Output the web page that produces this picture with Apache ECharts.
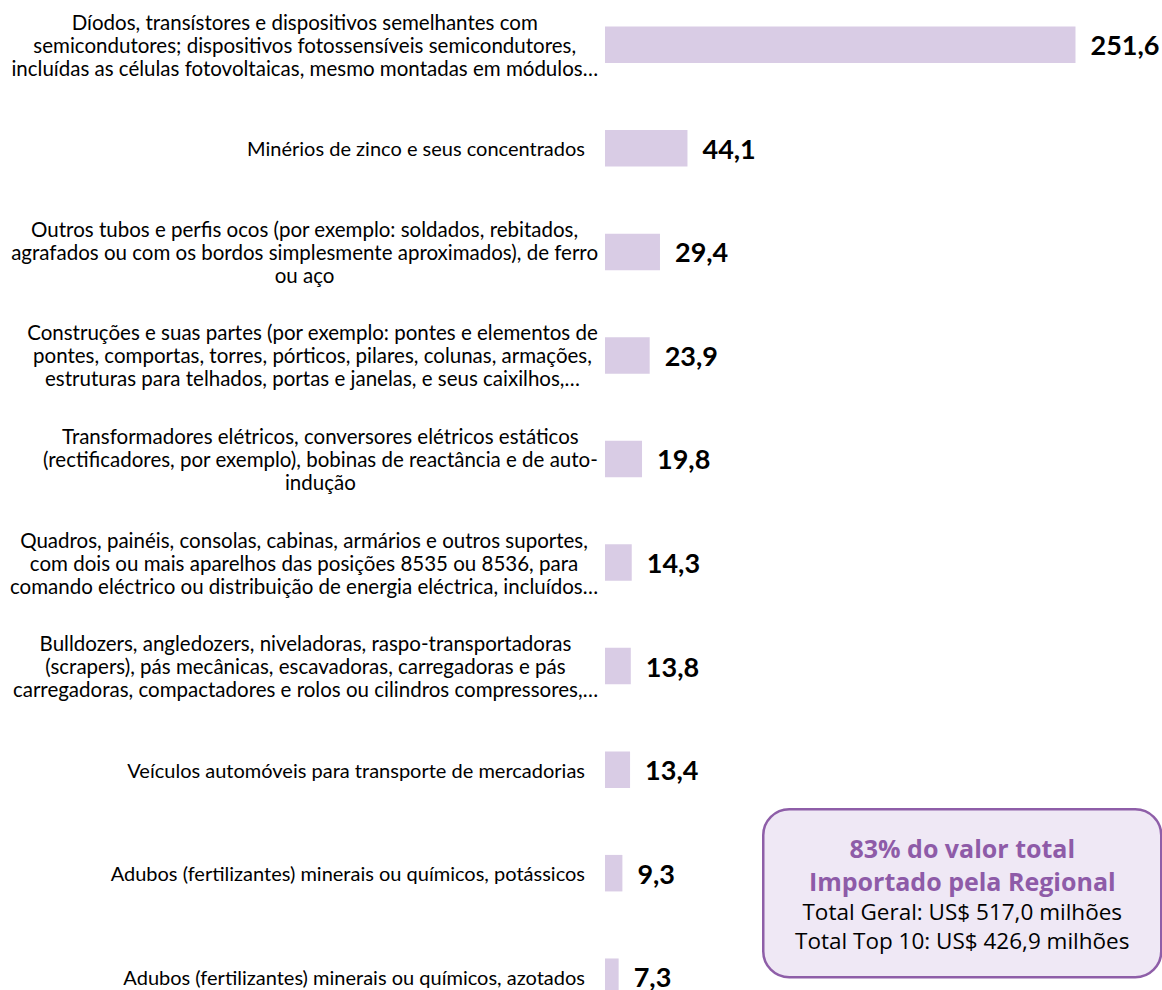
<!DOCTYPE html>
<html>
<head>
<meta charset="utf-8">
<script src="https://cdn.jsdelivr.net/npm/echarts@6/dist/echarts.min.js"></script>
<style>
html,body{margin:0;padding:0;background:#fff;}
#chart{width:1162px;height:990px;}
</style>
</head>
<body>
<div id="chart"></div>
<script>
const categories = [
  "Díodos, transístores e dispositivos semelhantes com\nsemicondutores; dispositivos fotossensíveis semicondutores,\nincluídas as células fotovoltaicas, mesmo montadas em módulos…",
  "Minérios de zinco e seus concentrados",
  "Outros tubos e perfis ocos (por exemplo: soldados, rebitados,\nagrafados ou com os bordos simplesmente aproximados), de ferro\nou aço",
  "Construções e suas partes (por exemplo: pontes e elementos de\npontes, comportas, torres, pórticos, pilares, colunas, armações,\nestruturas para telhados, portas e janelas, e seus caixilhos,…",
  "Transformadores elétricos, conversores elétricos estáticos\n(rectificadores, por exemplo), bobinas de reactância e de auto-\nindução",
  "Quadros, painéis, consolas, cabinas, armários e outros suportes,\ncom dois ou mais aparelhos das posições 8535 ou 8536, para\ncomando eléctrico ou distribuição de energia eléctrica, incluídos…",
  "Bulldozers, angledozers, niveladoras, raspo-transportadoras\n(scrapers), pás mecânicas, escavadoras, carregadoras e pás\ncarregadoras, compactadores e rolos ou cilindros compressores,…",
  "Veículos automóveis para transporte de mercadorias",
  "Adubos (fertilizantes) minerais ou químicos, potássicos",
  "Adubos (fertilizantes) minerais ou químicos, azotados"
];
const values = [251.6, 44.1, 29.4, 23.9, 19.8, 14.3, 13.8, 13.4, 9.3, 7.3];
const boxTitleLines = ["83% do valor total", "Importado pela Regional"];
const boxTextLines = ["Total Geral: US$ 517,0 milhões", "Total Top 10: US$ 426,9 milhões"];

const chart = echarts.init(document.getElementById('chart'), null, {renderer: 'svg'});
const fmt = v => v.toFixed(1).replace('.', ',');
const labelFont = 'Lato, "Open Sans", sans-serif';

const boxText = boxTitleLines.map(l => '{t|' + l + '}').join('\n') + '\n' +
                boxTextLines.map(l => '{n|' + l + '}').join('\n');

chart.setOption({
  animation: false,
  backgroundColor: '#ffffff',
  grid: {left: 605, top: -7, width: 523.6, height: 1035.5, containLabel: false, outerBoundsMode: 'none'},
  xAxis: {
    type: 'value', min: 0, max: 280, show: false
  },
  yAxis: {
    type: 'category',
    data: categories,
    inverse: true,
    axisLine: {show: false},
    axisTick: {show: false},
    axisLabel: {
      margin: 7,
      fontFamily: labelFont,
      fontSize: 20.5,
      color: '#000',
      formatter: function (v) {
        const lines = v.split('\n');
        if (lines.length === 1) return '{s|' + v + '}';
        return lines.map(l => '{c|' + l + '}').join('\n');
      },
      rich: {
        c: {align: 'center', fontFamily: labelFont, fontSize: 20.5, lineHeight: 23, color: '#000'},
        s: {align: 'right', fontFamily: labelFont, fontSize: 20, lineHeight: 23, color: '#000', padding: [0, 13, 0, 0]}
      }
    }
  },
  series: [{
    type: 'bar',
    data: values,
    barWidth: 36.5,
    itemStyle: {color: '#D9CCE5'},
    label: {
      show: true,
      position: 'right',
      distance: 15,
      formatter: p => fmt(p.value),
      fontFamily: labelFont,
      fontWeight: 'bold',
      fontSize: 27,
      color: '#000'
    }
  }],
  graphic: [{
    type: 'group',
    left: 762, top: 808,
    children: [{
      type: 'rect',
      shape: {x: 0, y: 0, width: 398, height: 168, r: 26},
      style: {fill: '#EFE8F5', stroke: '#8E5EA8', lineWidth: 2.5}
    }, {
      type: 'text',
      x: 199, y: 84,
      style: {
        text: boxText,
        align: 'center',
        verticalAlign: 'middle',
        rich: {
          t: {fontFamily: '"Open Sans", sans-serif', fontWeight: 'bold', fontSize: 25, lineHeight: 33, fill: '#8E5BA8', align: 'center'},
          n: {fontFamily: '"Open Sans", sans-serif', fontSize: 22.5, lineHeight: 29, fill: '#000', align: 'center'}
        }
      }
    }]
  }]
});
</script>
</body>
</html>
